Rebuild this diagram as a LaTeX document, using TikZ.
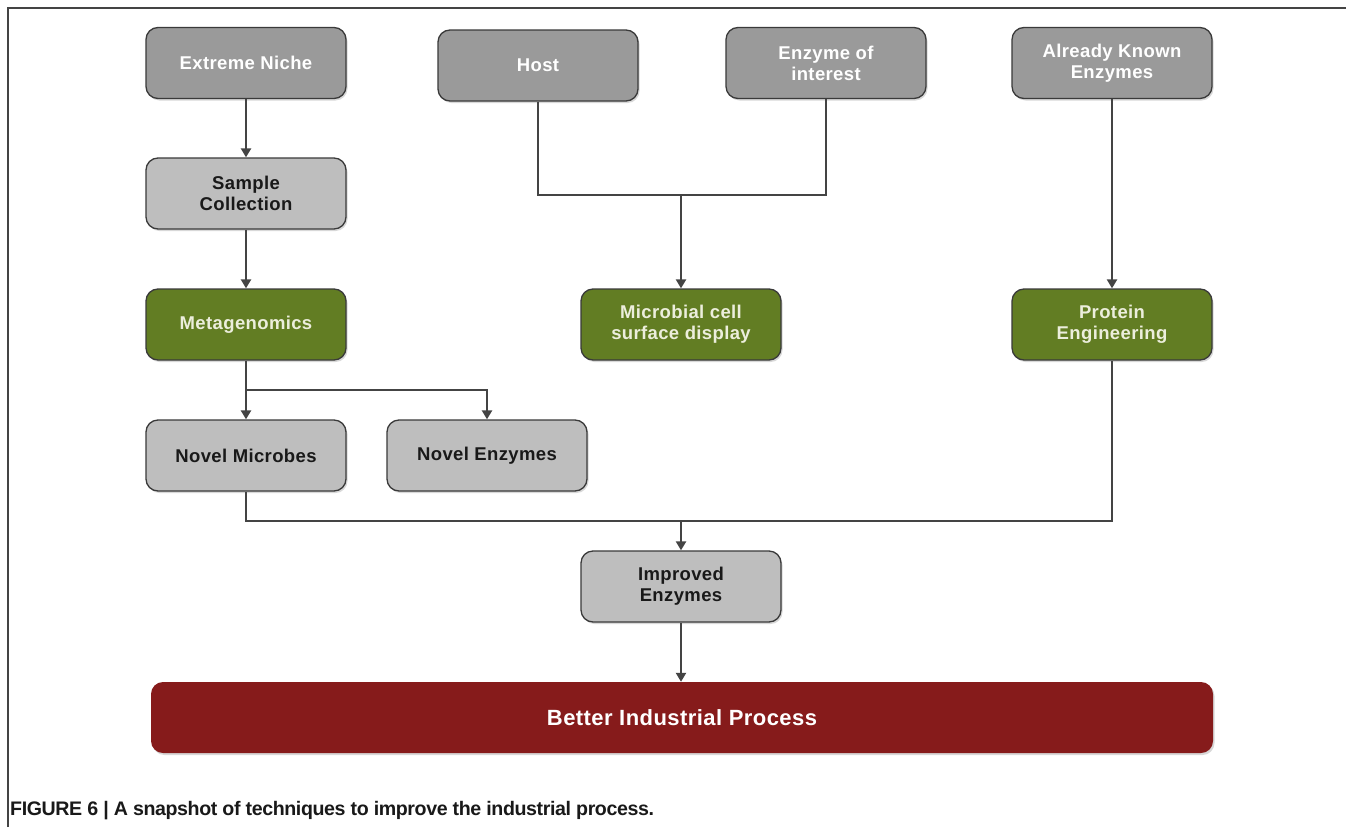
\documentclass[tikz,border=0pt]{standalone}
\usepackage{fontspec}
\setmainfont{Liberation Sans}
\usetikzlibrary{arrows.meta,shadows}
\definecolor{darkbox}{HTML}{9A9A9A}
\definecolor{lightbox}{HTML}{BEBEBE}
\definecolor{greenbox}{HTML}{627D23}
\definecolor{redbox}{HTML}{861B1B}
\definecolor{edgecol}{HTML}{3A3A3A}
\definecolor{linecol}{HTML}{444444}
\definecolor{greentext}{HTML}{ECEEDC}
\tikzset{
  boxbase/.style={rounded corners=12pt, minimum width=200pt, minimum height=71pt,
    inner sep=0pt, align=center, font=\fontsize{18.5}{21}\selectfont\bfseries\addfontfeatures{LetterSpace=2},
    draw=edgecol, line width=1.3pt,
    drop shadow={shadow xshift=1.5pt, shadow yshift=-2pt, fill=black!30, opacity=0.5}},
  darkstep/.style={boxbase, fill=darkbox, text=white},
  lightstep/.style={boxbase, fill=lightbox, text=black!90},
  greenstep/.style={boxbase, fill=greenbox, text=greentext},
  redstep/.style={rounded corners=12pt, minimum width=1062pt, minimum height=71pt,
    inner sep=0pt, fill=redbox, draw=none, text=white,
    font=\fontsize{22}{26}\selectfont\bfseries\addfontfeatures{LetterSpace=2},
    drop shadow={shadow xshift=1.5pt, shadow yshift=-2pt, fill=black!30, opacity=0.5}},
  conn/.style={draw=linecol, line width=2.4pt},
  arr/.style={conn, -{Triangle[length=9pt,width=10pt]}},
  framestyle/.style={draw=linecol, line width=1.5pt}
}
\begin{document}
\begin{tikzpicture}[x=1pt,y=-1pt]
\useasboundingbox (0,0) rectangle (1346,827);
\fill[white] (0,0) rectangle (1346,827);
% frame
\coordinate (fa) at (8,827);
\coordinate (fb) at (8,8);
\coordinate (fc) at (1346,8);
\draw[framestyle] (fa) -- (fb) -- (fc);

\node[darkstep] (niche) at (246,63) {Extreme Niche};
\node[darkstep] (host) at (538,65.5) {Host};
\node[darkstep] (eoi) at (826,63) {Enzyme of\\interest};
\node[darkstep] (known) at (1112,63) {Already Known\\Enzymes};
\node[lightstep] (sample) at (246,193.5) {Sample\\Collection};
\node[greenstep] (meta) at (246,324.5) {Metagenomics};
\node[greenstep] (mcsd) at (681,324.5) {Microbial cell\\surface display};
\node[greenstep] (prot) at (1112,324.5) {Protein\\Engineering};
\node[lightstep] (microbes) at (246,455.5) {Novel Microbes};
\node[lightstep] (enzymes) at (487,455.5) {Novel Enzymes};
\node[lightstep] (improved) at (681,586.5) {Improved\\Enzymes};
\node[redstep] (better) at (682,717.5) {Better Industrial Process};

\coordinate (j1) at (681,195);
\coordinate (j2) at (246,390);
\coordinate (j3) at (681,521);

\draw[arr] (niche) -- (sample);
\draw[arr] (sample) -- (meta);
\draw[conn] (host.south) |- (j1) -| (eoi.south);
\draw[arr] (j1) -- (mcsd.north);
\draw[arr] (known) -- (prot);
\draw[arr] (meta) -- (microbes);
\draw[arr] (j2) -| (enzymes.north);
\draw[conn] (microbes.south) |- (j3) -| (prot.south);
\draw[arr] (j3) -- (improved.north);
\draw[arr] (improved.south) -- (improved.south |- better.north);

\node[anchor=base west, inner sep=0pt, font=\fontsize{19.6}{22}\selectfont\bfseries, text=black!90] (caption) at (10,815)
  {\addfontfeatures{LetterSpace=-2}FIGURE 6 | A snapshot of techniques to improve the industrial process.};
\end{tikzpicture}
\end{document}
